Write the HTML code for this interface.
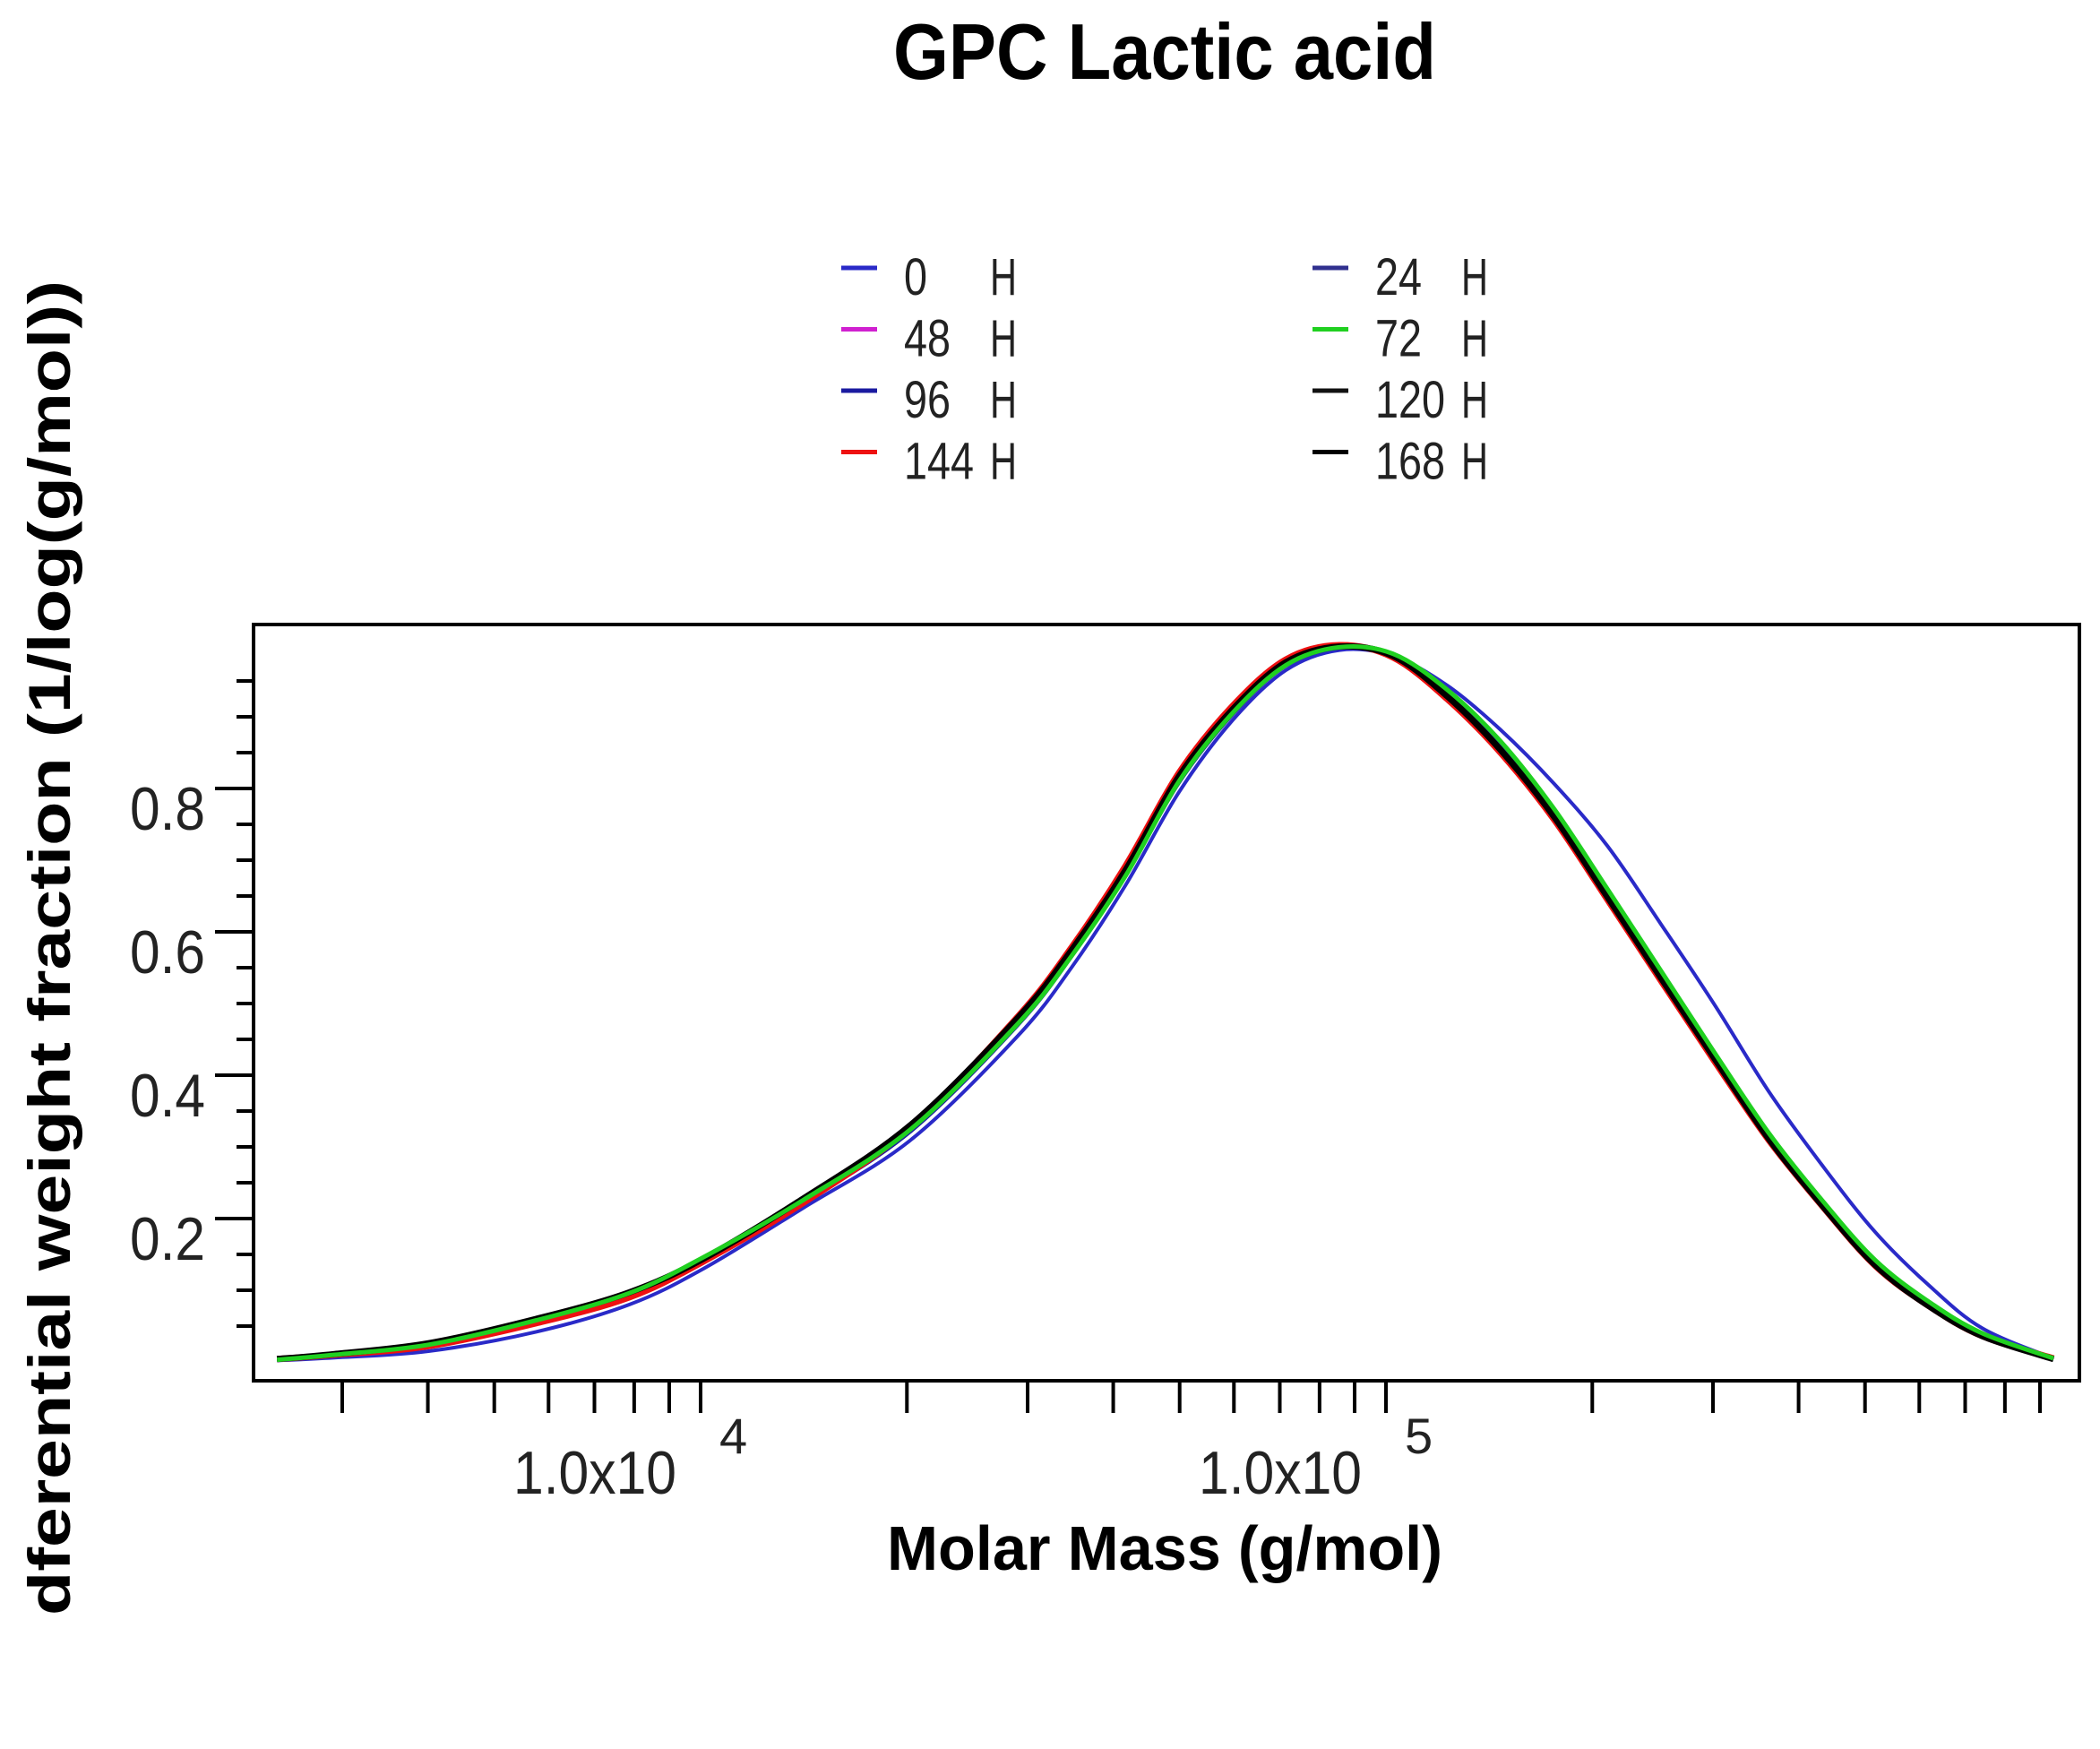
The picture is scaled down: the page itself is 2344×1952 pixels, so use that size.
<!DOCTYPE html>
<html><head><meta charset="utf-8"><style>
html,body{margin:0;padding:0;background:#fff;}
svg{display:block;font-family:"Liberation Sans",sans-serif;}
</style></head><body>
<svg id="chart" width="2344" height="1952" viewBox="0 0 2344 1952">
<text x="1300" y="88" text-anchor="middle" font-size="88" font-weight="bold" textLength="606" lengthAdjust="spacingAndGlyphs">GPC Lactic acid</text>
<g id="legend"></g>
<rect x="283" y="697" width="2038" height="844" fill="none" stroke="#000" stroke-width="4"/>
<g id="yaxis"></g>
<g id="xaxis"></g>
<g id="series"></g>
<text x="1300" y="1752" text-anchor="middle" font-size="70" font-weight="bold" textLength="620" lengthAdjust="spacingAndGlyphs">Molar Mass (g/mol)</text>
<text transform="translate(78,1058) rotate(-90)" text-anchor="middle" font-size="66" font-weight="bold" textLength="1490" lengthAdjust="spacingAndGlyphs">dferential weight fraction (1/log(g/mol))</text>
</svg>
<script>
const logM = [3.382,3.466,3.603,3.760,3.896,4.004,4.150,4.307,4.463,4.541,4.620,4.698,4.776,4.854,4.932,5.010,5.089,5.167,5.245,5.323,5.401,5.479,5.558,5.636,5.714,5.792,5.870,5.974];
const s0 = [0.002,0.006,0.015,0.042,0.080,0.130,0.215,0.310,0.455,0.550,0.665,0.795,0.895,0.965,0.993,0.985,0.944,0.882,0.807,0.720,0.611,0.499,0.378,0.275,0.181,0.107,0.047,0.005];
const s24 = [0.004,0.010,0.024,0.057,0.094,0.142,0.225,0.327,0.476,0.570,0.682,0.813,0.907,0.974,0.997,0.985,0.930,0.856,0.763,0.651,0.538,0.426,0.314,0.221,0.137,0.080,0.037,0.004];
const s48 = [0.004,0.010,0.024,0.058,0.095,0.143,0.226,0.329,0.478,0.572,0.684,0.815,0.908,0.975,0.997,0.985,0.930,0.855,0.762,0.650,0.537,0.425,0.313,0.220,0.136,0.079,0.036,0.004];
const s72 = [0.003,0.010,0.024,0.058,0.096,0.146,0.226,0.325,0.472,0.566,0.678,0.810,0.905,0.972,0.997,0.988,0.938,0.866,0.772,0.660,0.546,0.432,0.320,0.226,0.142,0.084,0.040,0.005];
const s96 = [0.003,0.009,0.022,0.055,0.092,0.140,0.222,0.322,0.470,0.565,0.678,0.808,0.903,0.971,0.996,0.986,0.932,0.858,0.765,0.653,0.540,0.428,0.316,0.222,0.138,0.080,0.037,0.004];
const s120 = [0.004,0.011,0.026,0.060,0.097,0.144,0.228,0.331,0.480,0.574,0.686,0.817,0.910,0.976,0.998,0.985,0.929,0.854,0.761,0.649,0.536,0.424,0.312,0.219,0.135,0.078,0.036,0.004];
const s144 = [0.004,0.010,0.022,0.054,0.090,0.140,0.222,0.328,0.482,0.578,0.692,0.822,0.915,0.980,1.000,0.983,0.925,0.850,0.757,0.645,0.532,0.420,0.310,0.218,0.134,0.078,0.036,0.005];
const s168 = [0.004,0.011,0.026,0.060,0.097,0.144,0.228,0.331,0.480,0.574,0.686,0.817,0.910,0.976,0.998,0.985,0.929,0.854,0.761,0.649,0.536,0.424,0.312,0.219,0.135,0.078,0.036,0.004];
const seriesLabels = ["0","24","48","72","96","120","144","168"];
const seriesColors = ["#2a2ac8","#30308f","#d020d0","#20d020","#1a1aa0","#111111","#ee1111","#000000"];
const seriesWidths = [4,4,4,5,4,6,7,7];
const yTicks = [0.2,0.4,0.6,0.8];
const yTickLabels = ["0.2","0.4","0.6","0.8"];
const xMajor = [4,5];

const NS="http://www.w3.org/2000/svg";
function X(l){return 782+(l-4)*765;}
function Y(v){return 1520-v*800;}
function mk(tag,attrs,parent){const e=document.createElementNS(NS,tag);for(const k in attrs)e.setAttribute(k,attrs[k]);parent.appendChild(e);return e;}

const yax=document.getElementById('yaxis');
for(let v=0.05;v<0.96;v+=0.05){
  const major=yTicks.some(t=>Math.abs(t-v)<1e-6);
  const t=mk('line',{x1:major?240:264,x2:283,y1:Y(v),y2:Y(v),stroke:'#000','stroke-width':4},yax);
  
  
}
yTicks.forEach((v,i)=>{
  const t=mk('text',{x:145,y:Y(v)+46,'font-size':68,textLength:84,lengthAdjust:'spacingAndGlyphs',fill:'#222'},yax);
  t.textContent=yTickLabels[i];
  
  
});

const xax=document.getElementById('xaxis');
for(let d=3;d<=5;d++){
  for(let m=1;m<=9;m++){
    const l=d+Math.log10(m);
    if(l<3.4||l>6)continue;
    const t=mk('line',{x1:X(l),x2:X(l),y1:1541,y2:1577,stroke:'#000','stroke-width':4},xax);
    
    
  }
}
xMajor.forEach(e=>{
  const t=mk('text',{x:X(e)-209,y:1667,'font-size':68,textLength:182,lengthAdjust:'spacingAndGlyphs',fill:'#222'},xax);
  t.textContent='1.0x10';
  
  
  const s=mk('text',{x:X(e)+21,y:1622,'font-size':56,fill:'#222'},xax);
  s.textContent=String(e);
  
  
});

function smoothPath(px,py){
  let p='M'+px[0].toFixed(1)+','+py[0].toFixed(1);
  for(let i=0;i<px.length-1;i++){
    const x0=px[Math.max(0,i-1)],y0=py[Math.max(0,i-1)];
    const x1=px[i],y1=py[i],x2=px[i+1],y2=py[i+1];
    const x3=px[Math.min(px.length-1,i+2)],y3=py[Math.min(px.length-1,i+2)];
    const c1x=x1+(x2-x0)/6,c1y=y1+(y2-y0)/6,c2x=x2-(x3-x1)/6,c2y=y2-(y3-y1)/6;
    p+='C'+c1x.toFixed(1)+','+c1y.toFixed(1)+' '+c2x.toFixed(1)+','+c2y.toFixed(1)+' '+x2.toFixed(1)+','+y2.toFixed(1);
  }
  return p;
}

const data=[s0,s24,s48,s72,s96,s120,s144,s168];
const order=[0,4,1,2,6,5,7,3];
const sg=document.getElementById('series');
order.forEach(i=>{
  const d=data[i];
  const px=logM.map(X), py=d.map(Y);
  const path=mk('path',{d:smoothPath(px,py),fill:'none',stroke:seriesColors[i],'stroke-width':seriesWidths[i],'stroke-linejoin':'round'},sg);
  
  
});

const lg=document.getElementById('legend');
seriesLabels.forEach((lab,i)=>{
  const col=i%2, row=Math.floor(i/2);
  const sx=col?1465:939, ty=329+row*68.5;
  const g=mk('g',{},lg);
  
  
  mk('line',{x1:sx,x2:sx+40,y1:ty-30,y2:ty-30,stroke:seriesColors[i],'stroke-width':5},g);
  const t=mk('text',{x:sx+70,y:ty,'font-size':58,fill:'#222',textLength:lab.length*26,lengthAdjust:'spacingAndGlyphs'},g);
  t.textContent=lab;
  const h=mk('text',{x:sx+166,y:ty,'font-size':58,fill:'#222',textLength:30,lengthAdjust:'spacingAndGlyphs'},g);
  h.textContent='H';
});
</script>
</body></html>
